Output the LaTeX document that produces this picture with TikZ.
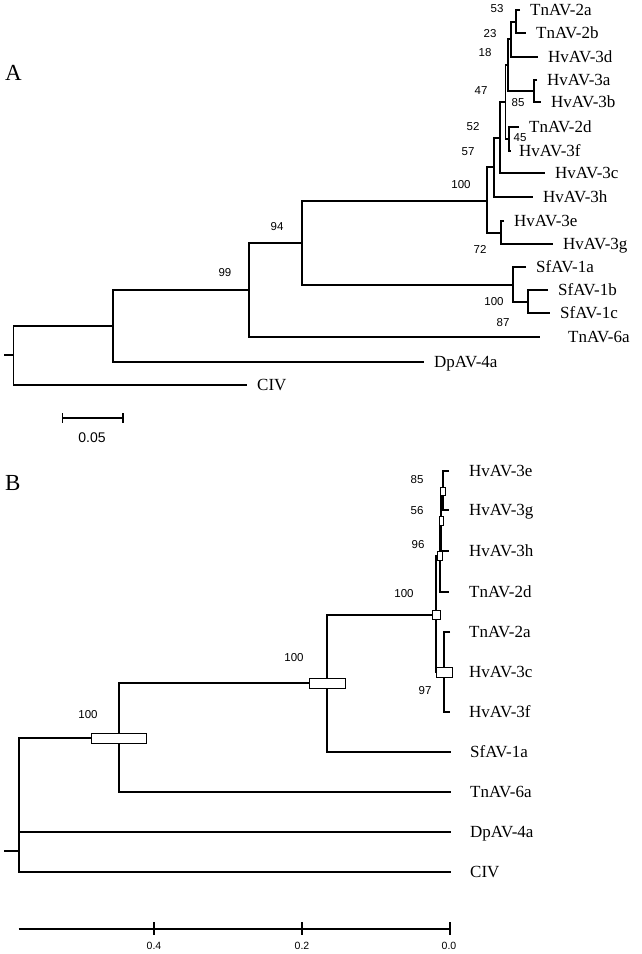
\documentclass[tikz,border=0pt]{standalone}
\usepackage{fontspec}
\setmainfont{Liberation Serif}
\newfontfamily\bootfont{Liberation Sans}
\usetikzlibrary{positioning}

\begin{document}
\begin{tikzpicture}[x=1pt,y=-1pt,
  branch/.style={line width=1.5pt},
  leaf/.style={inner sep=0pt,font=\fontsize{17}{20}\selectfont,text height=11.2pt,text depth=0pt},
  boot/.style={inner sep=0pt,font=\bootfont\fontsize{11.5}{13}\selectfont,text height=8.2pt,text depth=0pt},
  scalelab/.style={inner sep=0pt,font=\bootfont\fontsize{14}{16}\selectfont,text height=10pt,text depth=0pt},
  axislab/.style={inner sep=0pt,font=\bootfont\fontsize{10.5}{12}\selectfont,text height=7.5pt,text depth=0pt},
  panel/.style={inner sep=0pt,anchor=base west,font=\fontsize{23}{26}\selectfont},
  post/.style={draw,fill=white,line width=0.8pt,inner sep=0pt},
  node distance=10pt]
\useasboundingbox (0,0) rectangle (641,954);

% panel A
\node[panel] (pa) at (5,80) {A};
\coordinate (a53) at (516,22);
\coordinate (a23) at (511,39);
\coordinate (a85) at (534,91);
\coordinate (a18) at (508,65);
\coordinate (a45) at (509,139);
\coordinate (a47) at (505.5,102);
\coordinate (a52) at (500,138);
\coordinate (a57) at (494,167);
\coordinate (a72) at (501,233);
\coordinate (a100) at (487,201);
\coordinate (asf2) at (528,302);
\coordinate (asf) at (513,285);
\coordinate (a94) at (302,243);
\coordinate (a99) at (249,290);
\coordinate (a4) at (113,326);
\coordinate (aroot) at (13.6,355);
\coordinate (atick) at (4,355);
\coordinate (ta2a) at (520,10);
\coordinate (ta2b) at (526,33);
\coordinate (ta3d) at (538,57);
\coordinate (ta3a) at (537,80);
\coordinate (ta3b) at (541,102);
\coordinate (ta2d) at (519,127);
\coordinate (ta3f) at (511,151);
\coordinate (ta3c) at (545,173);
\coordinate (ta3h) at (533,197);
\coordinate (ta3e) at (504,221);
\coordinate (ta3g) at (553,244);
\coordinate (tasf1a) at (526,267);
\coordinate (tasf1b) at (548,290);
\coordinate (tasf1c) at (550,313);
\coordinate (ta6a) at (540,337);
\coordinate (ta4a) at (424,362);
\coordinate (taciv) at (247,385);
\draw[branch] (ta2a) -| (a53) |- (ta2b);
\draw[branch] (a53) -| (a23) |- (ta3d);
\draw[branch] (ta3a) -| (a85) |- (ta3b);
\draw[branch] (a23) -| (a18) |- (a85);
\draw[branch] (ta2d) -| (a45) |- (ta3f);
\draw[branch] (a18) -| (a47) |- (a45);
\draw[branch] (a47) -| (a52) |- (ta3c);
\draw[branch] (a52) -| (a57) |- (ta3h);
\draw[branch] (ta3e) -| (a72) |- (ta3g);
\draw[branch] (a57) -| (a100) |- (a72);
\draw[branch] (tasf1b) -| (asf2) |- (tasf1c);
\draw[branch] (tasf1a) -| (asf) |- (asf2);
\draw[branch] (a100) -| (a94) |- (asf);
\draw[branch] (a94) -| (a99) |- (ta6a);
\draw[branch] (a99) -| (a4) |- (ta4a);
\draw[branch] (a4) -| (aroot) |- (taciv);
\draw[branch] (atick) -- (aroot);
\node[leaf,right=of ta2a] (la2a) {TnAV-2a};
\node[leaf,right=of ta2b] (la2b) {TnAV-2b};
\node[leaf,right=of ta3d] (la3d) {HvAV-3d};
\node[leaf,right=of ta3a] (la3a) {HvAV-3a};
\node[leaf,right=of ta3b] (la3b) {HvAV-3b};
\node[leaf,right=of ta2d] (la2d) {TnAV-2d};
\node[leaf,right=8pt of ta3f] (la3f) {HvAV-3f};
\node[leaf,right=of ta3c] (la3c) {HvAV-3c};
\node[leaf,right=of ta3h] (la3h) {HvAV-3h};
\node[leaf,right=of ta3e] (la3e) {HvAV-3e};
\node[leaf,right=of ta3g] (la3g) {HvAV-3g};
\node[leaf,right=of tasf1a] (lasf1a) {SfAV-1a};
\node[leaf,right=of tasf1b] (lasf1b) {SfAV-1b};
\node[leaf,right=of tasf1c] (lasf1c) {SfAV-1c};
\node[leaf,right=28pt of ta6a] (la6a) {TnAV-6a};
\node[leaf,right=of ta4a] (la4a) {DpAV-4a};
\node[leaf,right=of taciv] (laciv) {CIV};
\node[boot] (ba53) at (497,8) {53};
\node[boot] (ba23) at (490,33) {23};
\node[boot] (ba18) at (485,52) {18};
\node[boot] (ba47) at (481,90) {47};
\node[boot] (ba85) at (518,102) {85};
\node[boot] (ba52) at (473,126) {52};
\node[boot] (ba45) at (520,137) {45};
\node[boot] (ba57) at (468,151) {57};
\node[boot] (ba100) at (461,184) {100};
\node[boot] (ba72) at (480,249) {72};
\node[boot] (ba94) at (277,226) {94};
\node[boot] (ba99) at (225,272) {99};
\node[boot] (basf) at (494,301) {100};
\node[boot] (ba87) at (503,322) {87};
% scale bar
\coordinate (sb1) at (62.5,418);
\coordinate (sb2) at (123,418);
\draw[branch] (sb1) -- (sb2);
\draw[branch] (62.5,413) -- (62.5,423);
\draw[branch] (123,413) -- (123,423);
\node[scalelab] (sblab) at (92,437) {0.05};

% panel B
\node[panel] (pb) at (5,490) {B};
\coordinate (b85) at (443,491);
\coordinate (b56) at (441,521);
\coordinate (b96) at (440,556);
\coordinate (b97) at (444,672);
\coordinate (bA) at (436,615);
\coordinate (bB) at (327,683);
\coordinate (bC) at (119,738);
\coordinate (broot) at (19,851);
\coordinate (btick) at (4,851);
\coordinate (tb3e) at (449,471);
\coordinate (tb3g) at (449,510);
\coordinate (tb3h) at (449,551);
\coordinate (tb2d) at (449,592);
\coordinate (tb2a) at (450,632);
\coordinate (tb3c) at (450,672);
\coordinate (tb3f) at (450,712);
\coordinate (tbsf) at (451,752);
\coordinate (tb6a) at (451,792);
\coordinate (tb4a) at (451,832);
\coordinate (tbciv) at (451,872);
\draw[branch] (tb3e) -| (b85) |- (tb3g);
\draw[branch] (b85) -| (b56) |- (tb3h);
\draw[branch] (b56) -| (b96) |- (tb2d);
\draw[branch] (tb2a) -| (b97) |- (tb3f);
\draw[branch] (b97) -- (tb3c);
\draw[branch] (b96) -| (bA) |- (b97);
\draw[branch] (bA) -| (bB) |- (tbsf);
\draw[branch] (bB) -| (bC) |- (tb6a);
\draw[branch] (bC) -| (broot) |- (tbciv);
\draw[branch] (broot) |- (tb4a);
\draw[branch] (btick) -- (broot);
\node[post,minimum width=5pt,minimum height=8pt] (p85) at (b85) {};
\node[post,minimum width=4pt,minimum height=9pt] (p56) at (b56) {};
\node[post,minimum width=5pt,minimum height=9pt] (p96) at (b96) {};
\node[post,minimum width=8pt,minimum height=9pt] (pA) at (bA) {};
\node[post,minimum width=16pt,minimum height=10pt] (p97) at (b97) {};
\node[post,minimum width=36pt,minimum height=10pt] (pB) at (bB) {};
\node[post,minimum width=55pt,minimum height=10pt] (pC) at (bC) {};
\node[leaf,right=20pt of tb3e] (lb3e) {HvAV-3e};
\node[leaf,right=20pt of tb3g] (lb3g) {HvAV-3g};
\node[leaf,right=20pt of tb3h] (lb3h) {HvAV-3h};
\node[leaf,right=20pt of tb2d] (lb2d) {TnAV-2d};
\node[leaf,right=19pt of tb2a] (lb2a) {TnAV-2a};
\node[leaf,right=19pt of tb3c] (lb3c) {HvAV-3c};
\node[leaf,right=19pt of tb3f] (lb3f) {HvAV-3f};
\node[leaf,right=19pt of tbsf] (lbsf) {SfAV-1a};
\node[leaf,right=19pt of tb6a] (lb6a) {TnAV-6a};
\node[leaf,right=19pt of tb4a] (lb4a) {DpAV-4a};
\node[leaf,right=19pt of tbciv] (lbciv) {CIV};
\node[boot] (bb85) at (417,479) {85};
\node[boot] (bb56) at (417,510) {56};
\node[boot] (bb96) at (418,544) {96};
\node[boot] (bbA) at (404,593) {100};
\node[boot] (bb97) at (425,690) {97};
\node[boot] (bbB) at (294,657) {100};
\node[boot] (bbC) at (88,714) {100};
% axis
\coordinate (ax0) at (18.5,929);
\coordinate (ax1) at (451,929);
\draw[branch] (ax0) -- (ax1);
\draw[branch] (154,922) -- (154,935);
\draw[branch] (302,922) -- (302,935);
\draw[branch] (450,922) -- (450,935);
\node[axislab] (ax4) at (154,946) {0.4};
\node[axislab] (ax2) at (302,946) {0.2};
\node[axislab] (ax00) at (449,946) {0.0};
\end{tikzpicture}
\end{document}
